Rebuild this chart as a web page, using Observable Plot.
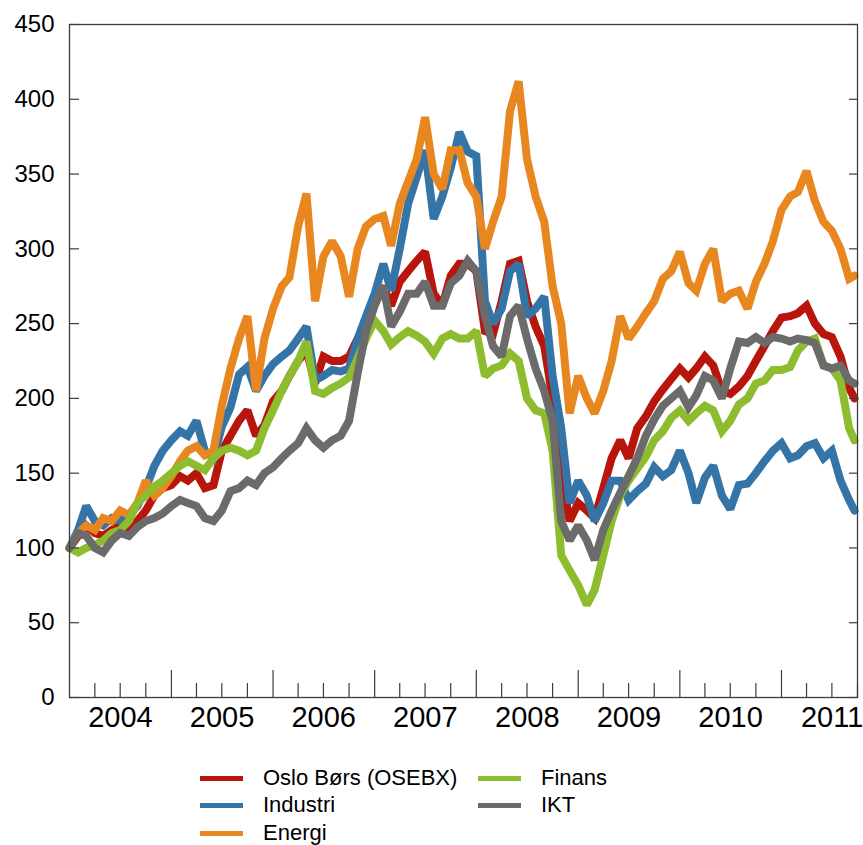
<!DOCTYPE html>
<html>
<head>
<meta charset="utf-8">
<script src="https://cdn.jsdelivr.net/npm/d3@7"></script>
<script src="https://cdn.jsdelivr.net/npm/@observablehq/plot@0.6"></script>
<style>
  body { margin: 0; background: #fff; font-family: "Liberation Sans", Arial, sans-serif; }
  #wrap { position: relative; width: 863px; height: 845px; overflow: hidden; }
  #chart { position: absolute; left: 0; top: 0; }
  .li { position: absolute; height: 26px; display: flex; align-items: center; font-size: 22px; color: #000; white-space: nowrap; }
  .sw { display: inline-block; width: 43px; height: 5px; margin-right: 20px; }
</style>
</head>
<body>
<div id="wrap"><div id="chart"></div></div>
<script>
// ---- data (index, start 2004 = 100), monthly readings Jan 2004 .. Sep 2011 + last day
const seriesNames = ["Oslo Børs (OSEBX)", "Industri", "Energi", "Finans", "IKT"];
const seriesColors = ["#b8150c", "#3574a7", "#e8871f", "#8dbd2f", "#6b6b6b"];

const osebx = [
  100,108,115,110,108,112,115,112,118,125,135,140,
  142,148,145,150,140,142,165,175,185,192,175,182,
  198,205,215,225,232,210,228,225,225,228,240,248,
  265,275,262,278,285,292,298,270,262,282,290,290,
  285,245,243,265,290,292,265,248,235,200,150,118,
  130,125,120,140,160,172,160,180,188,198,206,213,
  220,214,220,228,222,205,203,208,215,225,235,245,
  254,255,257,262,250,243,241,228,207,200
];
const industri = [
  100,112,128,118,115,120,118,122,128,140,155,165,
  172,178,175,185,165,160,181,194,216,221,205,215,
  223,228,232,240,248,212,215,219,218,220,240,255,
  270,290,272,300,330,348,366,320,335,354,378,365,
  362,265,250,260,285,290,255,260,268,215,180,130,
  145,135,118,130,145,145,132,138,143,154,148,152,
  165,150,130,147,155,135,126,142,143,150,158,165,
  170,160,162,168,170,160,165,145,132,125
];
const energi = [
  100,110,115,112,120,118,125,122,130,145,135,140,
  148,158,165,168,162,165,195,220,240,255,205,240,
  260,275,281,315,337,265,295,305,295,268,300,315,
  320,322,302,330,345,360,388,350,340,366,366,344,
  335,300,318,335,392,412,360,335,318,275,250,190,
  215,200,190,205,225,255,240,248,257,265,280,285,
  298,277,272,290,300,265,270,272,260,278,290,305,
  326,335,338,352,332,318,312,300,280,282
];
const finans = [
  100,97,100,102,105,110,112,118,130,135,141,145,
  150,155,158,155,152,160,165,167,165,162,165,180,
  192,205,215,225,238,205,203,207,210,214,227,240,
  252,245,236,241,245,242,238,230,240,243,240,240,
  245,215,220,222,230,225,200,192,190,165,95,85,
  75,62,72,95,118,135,145,153,161,172,178,187,
  192,185,190,195,192,178,185,196,200,210,212,219,
  219,221,232,238,240,222,220,212,180,172
];
const ikt = [
  100,110,108,100,97,105,110,108,114,118,120,123,
  128,132,130,128,120,118,125,138,140,145,142,150,
  154,160,165,170,180,172,167,172,175,185,217,245,
  262,275,248,258,270,270,278,262,262,277,282,292,
  285,255,235,228,255,262,240,220,205,185,118,105,
  115,105,92,112,125,137,148,160,175,186,195,200,
  205,194,202,215,212,200,220,238,237,241,237,241,
  240,238,240,239,237,222,220,222,212,210
];
const seriesValues = [osebx, industri, energi, finans, ikt];

const yTicks = [0, 50, 100, 150, 200, 250, 300, 350, 400, 450];
const yearLabels = ["2004", "2005", "2006", "2007", "2008", "2009", "2010", "2011"];

// dates: first of each month Jan 2004 .. Sep 2011, then last observation
const dates = [...d3.utcMonth.range(new Date(Date.UTC(2004, 0, 1)), new Date(Date.UTC(2011, 8, 2))),
               new Date(Date.UTC(2011, 8, 20))];

const rows = [];
seriesNames.forEach((name, i) => {
  seriesValues[i].forEach((v, j) => rows.push({date: dates[j], value: v, series: name}));
});

const yearStarts = yearLabels.map(y => new Date(Date.UTC(+y, 0, 1)));
const quarterTicks = [];
yearLabels.forEach(y => [3, 6, 9].forEach(m => quarterTicks.push(new Date(Date.UTC(+y, m, 1)))));
const midYears = yearLabels.map(y => new Date(Date.UTC(+y, 6, 2)));

const axisColor = "#3c3c3c";

const chart = Plot.plot({
  width: 863,
  height: 745,
  marginLeft: 69,
  marginRight: 6,
  marginTop: 24,
  marginBottom: 48,
  style: {fontFamily: "'Liberation Sans', Arial, sans-serif", background: "#fff", color: "#000"},
  x: {type: "utc", domain: [new Date(Date.UTC(2004, 0, 1)), new Date(Date.UTC(2011, 9, 1))]},
  y: {domain: [0, 450]},
  color: {domain: seriesNames, range: seriesColors},
  marks: [
    Plot.line(rows, {x: "date", y: "value", z: "series", stroke: "series", strokeWidth: 8, strokeLinejoin: "miter", strokeMiterlimit: 2}),
    // left axis labels
    Plot.axisY(yTicks, {anchor: "left", tickSize: 0, tickPadding: 15, fontSize: 24, label: null, tickFormat: d => String(d)}),
    // inward ticks left & right
    Plot.axisY(yTicks, {anchor: "left", tickSize: -10, text: null, label: null, stroke: axisColor, strokeWidth: 1.2}),
    Plot.axisY(yTicks, {anchor: "right", tickSize: -9, text: null, label: null, stroke: axisColor, strokeWidth: 1.2}),
    // x ticks: years (tall) and quarters (short), pointing up
    Plot.axisX(yearStarts.slice(1), {anchor: "bottom", tickSize: -27, text: null, label: null, stroke: axisColor, strokeWidth: 1.2}),
    Plot.axisX(quarterTicks, {anchor: "bottom", tickSize: -14, text: null, label: null, stroke: axisColor, strokeWidth: 1.2}),
    // year labels centred in each year
    Plot.axisX(midYears, {anchor: "bottom", tickSize: 0, tickPadding: 9, fontSize: 29, label: null,
      tickFormat: d => yearLabels[midYears.findIndex(m => +m === +d)]}),
    Plot.frame({stroke: axisColor, strokeWidth: 1.3})
  ]
});
document.getElementById("chart").appendChild(chart);

// legend (HTML, below the SVG)
const wrap = document.getElementById("wrap");
const legendPos = [
  {left: 200, top: 765}, {left: 200, top: 792}, {left: 200, top: 820},
  {left: 478, top: 765}, {left: 478, top: 792}
];
seriesNames.forEach((name, i) => {
  const d = document.createElement("div");
  d.className = "li";
  d.style.left = legendPos[i].left + "px";
  d.style.top = legendPos[i].top + "px";
  const s = document.createElement("span");
  s.className = "sw";
  s.style.background = seriesColors[i];
  d.appendChild(s);
  d.appendChild(document.createTextNode(name));
  wrap.appendChild(d);
});
</script>
</body>
</html>
